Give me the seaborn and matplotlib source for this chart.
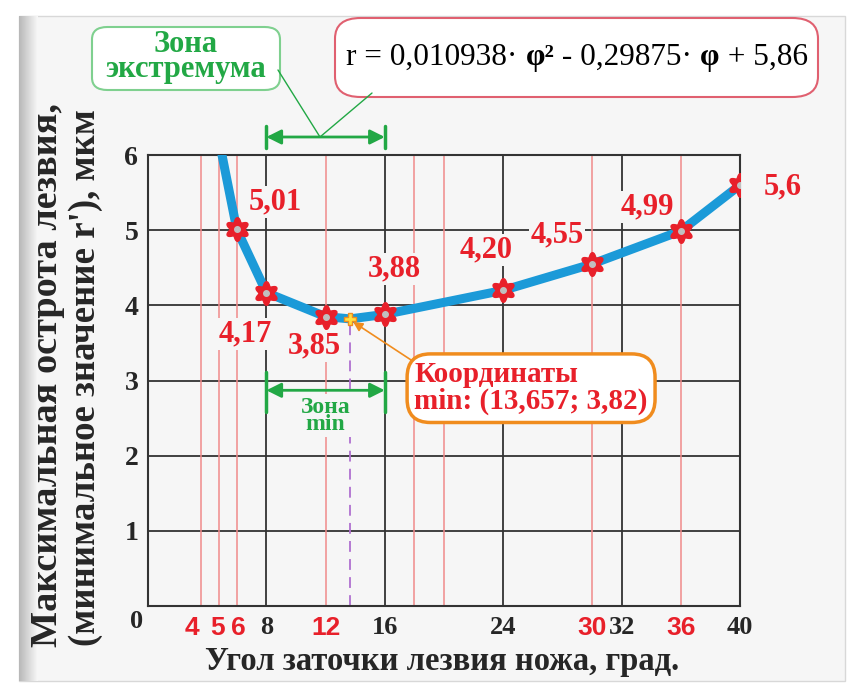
import numpy as np
import matplotlib
matplotlib.use("Agg")
import matplotlib.pyplot as plt
import seaborn as sns
from matplotlib.lines import Line2D
from matplotlib.patches import FancyBboxPatch
from matplotlib.path import Path
from matplotlib.offsetbox import TextArea, HPacker, AnnotationBbox

# Данные
x_curve = [5.0, 6, 8, 12, 13.657, 16, 24, 30, 36, 40]
y_curve = [6.0, 5.01, 4.17, 3.85, 3.82, 3.88, 4.20, 4.55, 4.99, 5.6]
x_pts = [6, 8, 12, 16, 24, 30, 36, 40]
y_pts = [5.01, 4.17, 3.85, 3.88, 4.20, 4.55, 4.99, 5.6]
pt_labels = ["5,01", "4,17", "3,85", "3,88", "4,20", "4,55", "4,99", "5,6"]
x_min, y_min = 13.657, 3.82
red_lines = [3.6, 4.8, 6, 12, 18, 20, 30, 36]
black_lines = [8, 16, 24, 32]
x_tick_pos = [3.0, 4.7, 6.1, 8, 12, 16, 24, 30, 32, 36, 40]
x_tick_txt = ["4", "5", "6", "8", "12", "16", "24", "30", "32", "36", "40"]
x_tick_red = [True, True, True, False, True, False, False, True, False, True, False]
zone = (8, 16)

sns.set_theme(style="white")
plt.rcParams["font.family"] = ["Liberation Serif", "DejaVu Serif"]

BG = "#f6f6f6"
RED = "#e8202a"
GREEN = "#22a845"
BLUE = "#1b9ad8"

# маркер-цветок
th = np.linspace(0, 2 * np.pi, 121)
rr = 1 + 0.22 * np.cos(6 * th)
flower = Path(np.column_stack([rr * np.sin(th), rr * np.cos(th)]), closed=True)

fig = plt.figure(figsize=(8.54, 6.86), dpi=100, facecolor="white")
fig.patches.append(FancyBboxPatch((0.022, 0.008), 0.968, 0.968, boxstyle="square,pad=0",
                                  transform=fig.transFigure, facecolor=BG,
                                  edgecolor="#d8d8d8", lw=1, zorder=-10))
grad = fig.add_axes([0.022, 0.008, 0.022, 0.968], zorder=-5)
grad.imshow(np.linspace(0.72, 0.97, 50).reshape(1, -1), cmap="gray", vmin=0, vmax=1,
            aspect="auto", extent=[0, 1, 0, 1])
grad.axis("off")

ax = fig.add_axes([0.1733, 0.1166, 0.6932, 0.6574])
ax.set_facecolor(BG)
ax.set_xlim(0, 40)
ax.set_ylim(0, 6)

for y in range(1, 7):
    ax.axhline(y, color="#333333", lw=1.3, zorder=1)
for x in black_lines:
    ax.axvline(x, color="#333333", lw=1.3, zorder=1)
for x in red_lines:
    ax.axvline(x, color="#f08a8a", lw=1.1, zorder=1)
for s in ax.spines.values():
    s.set_color("#333333")
    s.set_linewidth(1.5)

ax.plot([x_min, x_min], [0, y_min], color="#b070d0", lw=1.3, ls=(0, (6, 4)), zorder=2)

sns.lineplot(x=x_curve, y=y_curve, sort=False, color=BLUE, linewidth=6.5, ax=ax,
             zorder=3, solid_capstyle="round", solid_joinstyle="round")
ax.plot(x_pts, y_pts, ls="none", marker=flower, ms=17, color=RED, mec=RED, zorder=4)
ax.plot(x_pts, y_pts, ls="none", marker="o", ms=4, color="#c0c0c0", mec="#c0c0c0", zorder=5)
ax.plot([x_min], [y_min], ls="none", marker="P", ms=9, color="#ffe040", mec="#f08c1e", mew=1, zorder=5)

offsets = [(28, 20), (-15, -30), (-8, -21), (7, 33), (-12, 29), (-25, 21), (-24, 17), (31, -1)]
for x, y, t, off in zip(x_pts, y_pts, pt_labels, offsets):
    ax.annotate(t, (x, y), xytext=off, textcoords="offset points", ha="center", va="center",
                color=RED, fontsize=22, fontweight="bold", zorder=6, annotation_clip=False,
                bbox=dict(boxstyle="square,pad=0.05", fc=BG, ec="none"))

ax.set_xticks(x_tick_pos)
ax.set_xticklabels(x_tick_txt)
for lab, red in zip(ax.get_xticklabels(), x_tick_red):
    if red:
        lab.set_color(RED)
        lab.set_family(["Liberation Sans", "DejaVu Sans"])
    lab.set_fontweight("bold")
    lab.set_fontsize(19)
ax.set_yticks(range(1, 7))
ax.set_yticklabels([str(v) for v in range(1, 7)], fontsize=20, fontweight="bold")
ax.tick_params(axis="both", length=0, pad=7)
ax.text(-0.3, -0.05, "0", ha="right", va="top", fontsize=19, fontweight="bold")

# зона минимума
yz = 2.87
ax.annotate("", xy=(zone[1], yz), xytext=(zone[0], yz),
            arrowprops=dict(arrowstyle="<|-|>", color=GREEN, lw=2, mutation_scale=22, shrinkA=0, shrinkB=0),
            zorder=6)
for x in zone:
    ax.plot([x, x], [2.58, 3.11], color=GREEN, lw=2.5, zorder=6)
ax.text(12, 2.53, "Зона\nmin", ha="center", va="center", color=GREEN, fontsize=17,
        fontweight="bold", linespacing=0.75, zorder=6,
        bbox=dict(boxstyle="square,pad=0.1", fc=BG, ec="none"))

# зона экстремума над графиком
yt = 6.24
ax.annotate("", xy=(zone[1], yt), xytext=(zone[0], yt), annotation_clip=False,
            arrowprops=dict(arrowstyle="<|-|>", color=GREEN, lw=2, mutation_scale=22, shrinkA=0, shrinkB=0))
for x in zone:
    ax.plot([x, x], [6.09, 6.385], color=GREEN, lw=2.5, clip_on=False)

# координаты минимума
ax.annotate("", xy=(x_min + 0.2, y_min - 0.04), xytext=(17.8, 3.27),
            arrowprops=dict(arrowstyle="-|>", color="#f08c1e", lw=1.2, mutation_scale=14, shrinkA=0, shrinkB=0),
            zorder=6)
ax.text(18.0, 2.9, "Координаты\nmin: (13,657; 3,82)", ha="left", va="center", color=RED,
        fontsize=21, fontweight="bold", linespacing=1.0, zorder=7,
        bbox=dict(boxstyle="round,pad=0.25,rounding_size=0.8", fc="white", ec="#f08c1e", lw=2.5))

fig.text(0.518, 0.035, "Угол заточки лезвия ножа, град.", ha="center", va="center",
         fontsize=23.5, fontweight="bold")
fig.text(0.056, 0.453, "Максимальная острота лезвия,", rotation=90, ha="center", va="center",
         fontsize=27.5, fontweight="bold")
fig.text(0.1, 0.449, "(минимальное значение r'), мкм", rotation=90, ha="center", va="center",
         fontsize=26.5, fontweight="bold")

# надписи сверху
fig.patches.append(FancyBboxPatch((92 / 854, 1 - 90 / 686), 188 / 854, 63 / 686,
                                  boxstyle="round,pad=0,rounding_size=0.018",
                                  transform=fig.transFigure, fc="white", ec="#7fd08f", lw=1.5))
fig.text(186 / 854, 1 - 57 / 686, "Зона\nэкстремума", ha="center", va="center", color=GREEN,
         fontsize=22, fontweight="bold", linespacing=0.82)
fig.patches.append(FancyBboxPatch((335 / 854, 1 - 97 / 686), 483 / 854, 79 / 686,
                                  boxstyle="round,pad=0,rounding_size=0.03",
                                  transform=fig.transFigure, fc="white", ec="#e06070", lw=1.5))
parts = [("r = 0,010938· ", "normal"), ("φ²", "bold"), (" - 0,29875· ", "normal"),
         ("φ", "bold"), (" + 5,86", "normal")]
pack = HPacker(children=[TextArea(t, textprops=dict(fontsize=22.5, fontweight=w, color="black"))
                         for t, w in parts], pad=0, sep=0, align="baseline")
fig.add_artist(AnnotationBbox(pack, (577 / 854, 1 - 57 / 686), xycoords="figure fraction",
                              frameon=False))
fig.add_artist(Line2D([0.3255, 0.3747], [0.898, 0.8003], color=GREEN, lw=1, transform=fig.transFigure))
fig.add_artist(Line2D([0.4356, 0.3747], [0.8644, 0.8003], color=GREEN, lw=1, transform=fig.transFigure))

fig.savefig("out.png", dpi=100, facecolor="white")
